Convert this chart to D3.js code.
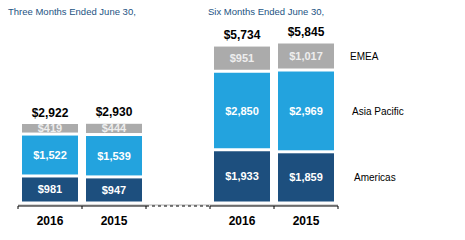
<!DOCTYPE html>
<html>
<head>
<meta charset="utf-8">
<script src="https://cdn.jsdelivr.net/npm/d3@7"></script>
<style>
  body { margin: 0; background: #fff; }
  svg { display: block; font-family: "Liberation Sans", Arial, sans-serif; }
</style>
</head>
<body>
<div id="plot"></div>
<script>
var width = 465, height = 240;

// Data
var periods = ["Three Months Ended June 30,", "Six Months Ended June 30,"];
var years = ["2016", "2015"];
var regions = ["Americas", "Asia Pacific", "EMEA"];
var americas = [981, 947, 1933, 1859];
var asiaPacific = [1522, 1539, 2850, 2969];
var emea = [419, 444, 951, 1017];
var totals = [2922, 2930, 5734, 5845];

var colors = { "Americas": "#1d4f7e", "Asia Pacific": "#23a3de", "EMEA": "#ababab" };

// slots: two bars, an empty gap, two bars
var slots = ["p0-2016", "p0-2015", "gap", "p1-2016", "p1-2015"];
var barSlots = ["p0-2016", "p0-2015", "p1-2016", "p1-2015"];

var svg = d3.select("div#plot")
    .append("svg")
        .attr("width", width)
        .attr("height", height)
        .attr("viewBox", "0 0 " + width + " " + height);

var x = d3.scaleBand()
    .domain(slots)
    .range([18, 338])
    .paddingInner(0.125)
    .paddingOuter(0.0625);

var y = d3.scaleLinear()
    .domain([0, 5845])
    .range([203, 42]);

var fmt = function(v) { return "$" + d3.format(",")(v); };

var rows = barSlots.map(function(s, i) {
    return { slot: s, year: years[i % 2], Americas: americas[i], "Asia Pacific": asiaPacific[i], EMEA: emea[i], total: totals[i] };
});

var stack = d3.stack().keys(regions)(rows);

// Period titles
svg.selectAll("text.period")
    .data(periods)
    .join("text")
        .attr("class", "period")
        .attr("x", function(d, i) { return i == 0 ? 8 : x("p1-2016") - 6; })
        .attr("y", 15)
        .attr("fill", "#1c5383")
        .attr("font-size", 9.5)
        .text(function(d) { return d; });

// Bar segments
var gap = 1.5;
var layers = svg.selectAll("g.layer")
    .data(stack)
    .join("g")
        .attr("class", "layer")
        .attr("fill", function(d) { return colors[d.key]; });

layers.selectAll("rect")
    .data(function(d) { return d; })
    .join("rect")
        .attr("x", function(d) { return x(d.data.slot); })
        .attr("width", x.bandwidth())
        .attr("y", function(d) { return y(d[1]) + gap; })
        .attr("height", function(d) { return Math.max(0, y(d[0]) - y(d[1]) - 2 * gap); });

layers.selectAll("text")
    .data(function(d) { return d.map(function(p) { p.key = d.key; return p; }); })
    .join("text")
        .attr("x", function(d) { return x(d.data.slot) + x.bandwidth() / 2; })
        .attr("y", function(d) { return (y(d[0]) + y(d[1])) / 2 + 4; })
        .attr("text-anchor", "middle")
        .attr("fill", function(d) { return d.key == "EMEA" ? "#eeeeee" : "#ffffff"; })
        .attr("font-size", 11)
        .attr("font-weight", "bold")
        .text(function(d) { return fmt(d.data[d.key]); });

// Totals above bars
svg.selectAll("text.total")
    .data(rows)
    .join("text")
        .attr("class", "total")
        .attr("x", function(d) { return x(d.slot) + x.bandwidth() / 2; })
        .attr("y", function(d) { return y(d.total) - 6; })
        .attr("text-anchor", "middle")
        .attr("font-size", 12)
        .attr("font-weight", "bold")
        .attr("fill", "#000")
        .text(function(d) { return fmt(d.total); });

// Axis with ticks at slot boundaries
var step = x.step(), pad = step * x.paddingInner() / 2;
var bounds = slots.map(function(s) { return x(s) - pad; });
bounds.push(x(slots[slots.length - 1]) + x.bandwidth() + pad);
var axisY = 206;

var axis = svg.append("g").attr("class", "axis");
slots.forEach(function(s, i) {
    axis.append("line")
        .attr("x1", bounds[i]).attr("x2", bounds[i + 1])
        .attr("y1", axisY - 1).attr("y2", axisY - 1)
        .attr("stroke", "#b0b0b0");
    axis.append("line")
        .attr("x1", bounds[i]).attr("x2", bounds[i + 1])
        .attr("y1", axisY).attr("y2", axisY)
        .attr("stroke", "#000")
        .attr("stroke-dasharray", s == "gap" ? "3,3" : null);
});
axis.selectAll("line.tick")
    .data(bounds)
    .join("line")
        .attr("class", "tick")
        .attr("x1", function(d) { return d; }).attr("x2", function(d) { return d; })
        .attr("y1", axisY).attr("y2", axisY + 3)
        .attr("stroke", "#000");

// Year labels
svg.selectAll("text.year")
    .data(rows)
    .join("text")
        .attr("class", "year")
        .attr("x", function(d) { return x(d.slot) + x.bandwidth() / 2; })
        .attr("y", 225)
        .attr("text-anchor", "middle")
        .attr("font-size", 12)
        .attr("font-weight", "bold")
        .text(function(d) { return d.year; });

// Region labels beside the last bar
var last = rows.length - 1;
svg.selectAll("text.region")
    .data(stack)
    .join("text")
        .attr("class", "region")
        .attr("x", function(d, i) { return 354 - 2 * i; })
        .attr("y", function(d) { return (y(d[last][0]) + y(d[last][1])) / 2 + 4; })
        .attr("font-size", 10)
        .attr("fill", "#000")
        .text(function(d) { return d.key; });
</script>
</body>
</html>
